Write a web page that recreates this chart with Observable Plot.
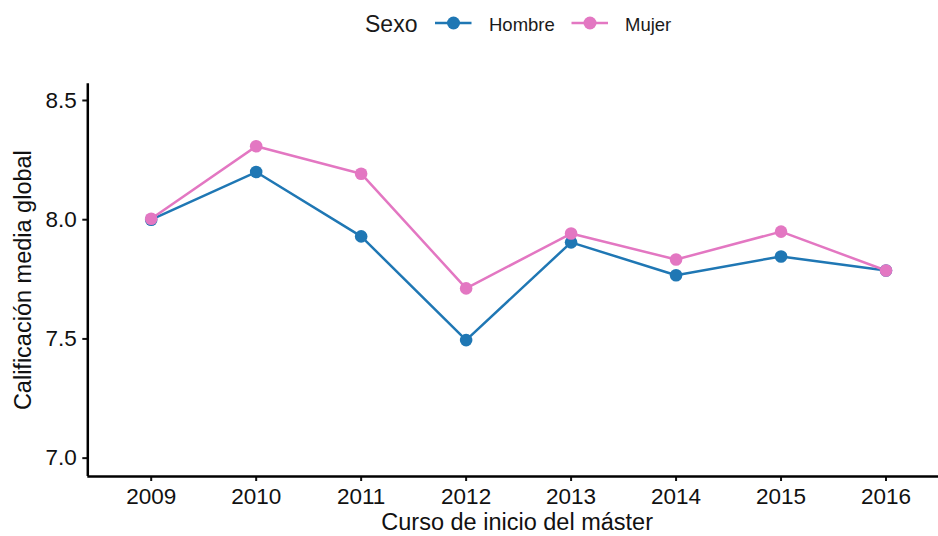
<!DOCTYPE html>
<html>
<head>
<meta charset="utf-8">
<script src="https://cdn.jsdelivr.net/npm/d3@7"></script>
<script src="https://cdn.jsdelivr.net/npm/@observablehq/plot@0.6"></script>
<style>
  body { margin: 0; background: #fff; overflow: hidden; }
  #legend, #chart { display: block; width: 938px; }
  #legend svg, #chart svg { display: block; }
</style>
</head>
<body>
<div id="legend"></div>
<div id="chart"></div>
<script>
const years = [2009, 2010, 2011, 2012, 2013, 2014, 2015, 2016];
const hombre = [8.00, 8.20, 7.93, 7.495, 7.905, 7.767, 7.846, 7.787];
const mujer = [8.004, 8.308, 8.193, 7.712, 7.942, 7.833, 7.95, 7.787];
const series = ["Hombre", "Mujer"];
const colors = ["#1f77b4", "#e377c2"];
const yTicks = [7.0, 7.5, 8.0, 8.5];

const data = [
  ...years.map((y, i) => ({year: y, value: hombre[i], sexo: "Hombre"})),
  ...years.map((y, i) => ({year: y, value: mujer[i], sexo: "Mujer"}))
];

const FONT = "Liberation Sans, Arial, Helvetica, sans-serif";

// legend (above the plot)
const lg = d3.create("svg").attr("width", 938).attr("height", 48)
  .style("font-family", FONT);
lg.append("text").attr("x", 365).attr("y", 32).attr("font-size", 23)
  .attr("fill", "#1a1a1a").text("Sexo");
const swX = [435, 571.5];
const lblX = [489, 625];
series.forEach((s, i) => {
  lg.append("line").attr("x1", swX[i]).attr("x2", swX[i] + 36.5)
    .attr("y1", 23).attr("y2", 23).attr("stroke", colors[i]).attr("stroke-width", 2.5);
  lg.append("circle").attr("cx", swX[i] + 18.5).attr("cy", 23).attr("r", 6.5).attr("fill", colors[i]);
  lg.append("text").attr("x", lblX[i]).attr("y", 30.5).attr("font-size", 18.5)
    .attr("fill", "#1a1a1a").text(s);
});
document.getElementById("legend").appendChild(lg.node());

const xmin = 2008.396, xmax = 2016.5;
const ymin = 6.923, ymax = 8.570;

const chart = Plot.plot({
  width: 938,
  height: 488,
  marginTop: 35.3,
  marginBottom: 60,
  marginLeft: 87.3,
  marginRight: 0,
  style: {fontFamily: FONT, background: "#fff"},
  x: {domain: [xmin, xmax]},
  y: {domain: [ymin, ymax]},
  color: {domain: series, range: colors},
  marks: [
    Plot.axisY({ticks: yTicks, tickFormat: d3.format(".1f"), tickSize: 5, tickPadding: 6,
      fontSize: 22.5, color: "#111", strokeWidth: 2, label: null}),
    Plot.axisX({ticks: years, tickFormat: d3.format("d"), tickSize: 5, tickPadding: 7,
      fontSize: 22.5, color: "#111", strokeWidth: 2, label: null}),
    Plot.ruleX([xmin], {stroke: "black", strokeWidth: 2.5}),
    Plot.ruleY([ymin], {stroke: "black", strokeWidth: 2.5}),
    Plot.line(data, {x: "year", y: "value", stroke: "sexo", z: "sexo", strokeWidth: 2.5}),
    Plot.dot(data, {x: "year", y: "value", fill: "sexo", r: 6.3}),
    Plot.text(["Curso de inicio del máster"], {frameAnchor: "bottom", textAnchor: "middle", lineAnchor: "middle",
      dy: 45.5, dx: 4, fontSize: 23.5, fill: "#111"}),
    Plot.text(["Calificación media global"], {frameAnchor: "left", textAnchor: "middle", lineAnchor: "middle",
      dx: -64.8, rotate: -90, fontSize: 23.5, fill: "#111"})
  ]
});
document.getElementById("chart").appendChild(chart);
</script>
</body>
</html>
